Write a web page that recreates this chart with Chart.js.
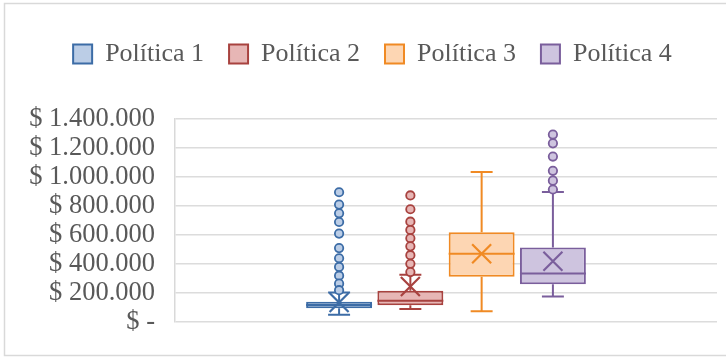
<!DOCTYPE html>
<html lang="es">
<head>
<meta charset="utf-8">
<title>Políticas – diagrama de caja</title>
<script src="https://cdn.jsdelivr.net/npm/chart.js@4/dist/chart.umd.min.js"></script>
<style>
  html, body { margin: 0; padding: 0; background: #ffffff; }
  #lienzo { display: block; }
</style>
</head>
<body>
<canvas id="lienzo" width="726" height="358"></canvas>
<script>
// Resumen de cinco números, media y valores atípicos de cada política
const politicas = ['Política 1', 'Política 2', 'Política 3', 'Política 4'];
const minimos   = [50000, 90000, 75000, 177000];
const cuartil1  = [95000, 116000, 313000, 261000];
const medianas  = [118000, 148000, 471000, 335000];
const cuartil3  = [141000, 216000, 619000, 515000];
const maximos   = [204000, 327000, 1034000, 896000];
const medias    = [135000, 245000, 471000, 420000];
const atipicos1 = [895000, 810000, 750000, 690000, 610000, 510000, 440000, 380000, 320000, 265000, 220000];
const atipicos2 = [873000, 778000, 692000, 635000, 578000, 522000, 461000, 402000, 345000];
const atipicos3 = [];
const atipicos4 = [1293000, 1232000, 1141000, 1043000, 975000, 914000];
const atipicos  = [atipicos1, atipicos2, atipicos3, atipicos4];
const ejeY      = { min: 0, max: 1400000, paso: 200000 };

const bordes   = ['#3C6CA6', '#A8423F', '#F08A24', '#7A5E9C'];
const rellenos = ['#BBCDE6', '#E7B6B5', '#FDD6B3', '#CEC4DF'];

const fuente = 'Liberation Serif, "Times New Roman", serif';
const gris = '#595959';

function pesos(v) {
  if (v === 0) return '$ -';
  return '$ ' + String(v).replace(/\B(?=(\d{3})+(?!\d))/g, '.');
}

// Marco del gráfico y fondo blanco
const marco = {
  id: 'marco',
  beforeDraw(chart) {
    const ctx = chart.ctx;
    ctx.save();
    ctx.fillStyle = '#ffffff';
    ctx.fillRect(0, 0, chart.width, chart.height);
    ctx.strokeStyle = '#d9d9d9';
    ctx.lineWidth = 1.5;
    ctx.strokeRect(4.5, 3.5, chart.width + 10, chart.height - 2.5 - 3.5);
    ctx.restore();
  }
};

// Separación extra entre la leyenda y el área de trazado
const separacionLeyenda = {
  id: 'separacionLeyenda',
  beforeInit(chart) {
    const original = chart.legend.fit;
    chart.legend.fit = function () {
      original.call(this);
      this.height += 42;
    };
  }
};

// Bigotes, mediana, media (X) y atípicos sobre cada caja
const bigotes = {
  id: 'bigotes',
  afterDatasetsDraw(chart) {
    const ctx = chart.ctx;
    const y = chart.scales.y;
    chart.data.datasets.forEach((ds, i) => {
      const meta = chart.getDatasetMeta(i);
      if (!chart.isDatasetVisible(i)) return;
      const barra = meta.data[0];
      const cx = barra.x;
      const w = barra.width;
      const tapa = w / 3;
      const col = bordes[i];
      const yMin = y.getPixelForValue(minimos[i]);
      const yMax = y.getPixelForValue(maximos[i]);
      const yQ1 = y.getPixelForValue(cuartil1[i]);
      const yQ3 = y.getPixelForValue(cuartil3[i]);
      const yMed = y.getPixelForValue(medianas[i]);
      const yMedia = y.getPixelForValue(medias[i]);

      ctx.save();
      ctx.strokeStyle = col;
      ctx.lineWidth = 2;
      ctx.lineCap = 'butt';
      ctx.beginPath();
      // bigote superior
      ctx.moveTo(cx, yQ3); ctx.lineTo(cx, yMax);
      ctx.moveTo(cx - tapa / 2, yMax); ctx.lineTo(cx + tapa / 2, yMax);
      // bigote inferior
      ctx.moveTo(cx, yQ1); ctx.lineTo(cx, yMin);
      ctx.moveTo(cx - tapa / 2, yMin); ctx.lineTo(cx + tapa / 2, yMin);
      // mediana
      ctx.moveTo(cx - w / 2, yMed); ctx.lineTo(cx + w / 2, yMed);
      ctx.stroke();

      // media
      const m = 9.5;
      ctx.lineWidth = 2.2;
      ctx.beginPath();
      ctx.moveTo(cx - m, yMedia - m); ctx.lineTo(cx + m, yMedia + m);
      ctx.moveTo(cx - m, yMedia + m); ctx.lineTo(cx + m, yMedia - m);
      ctx.stroke();

      // atípicos
      ctx.lineWidth = 1.8;
      ctx.fillStyle = rellenos[i];
      atipicos[i].forEach(v => {
        const py = y.getPixelForValue(v);
        ctx.beginPath();
        ctx.arc(cx, py, 4.2, 0, Math.PI * 2);
        ctx.fill();
        ctx.stroke();
      });
      ctx.restore();
    });
  }
};

const datasets = politicas.map((nombre, i) => ({
  label: nombre,
  data: [[cuartil1[i], cuartil3[i]]],
  backgroundColor: rellenos[i],
  borderColor: bordes[i],
  borderWidth: 2,
  borderSkipped: false,
  categoryPercentage: 0.526,
  barPercentage: 0.925
}));

new Chart(document.getElementById('lienzo'), {
  type: 'bar',
  data: { labels: [''], datasets },
  options: {
    responsive: false,
    animation: false,
    devicePixelRatio: 1,
    layout: { padding: { top: 16, left: 28, right: 9, bottom: 33 } },
    plugins: {
      legend: {
        position: 'top',
        labels: {
          boxWidth: 19,
          boxHeight: 19,
          padding: 25,
          color: gris,
          font: { family: fuente, size: 26 }
        }
      },
      tooltip: { enabled: false }
    },
    scales: {
      x: { display: false },
      y: {
        min: ejeY.min,
        max: ejeY.max,
        afterFit(escala) { escala.width = 147; },
        border: { display: true, color: '#d9d9d9', width: 1.5 },
        grid: { color: '#dcdcdc', lineWidth: 1.5, drawTicks: false },
        ticks: {
          stepSize: ejeY.paso,
          autoSkip: false,
          padding: 20,
          color: gris,
          font: { family: fuente, size: 26.5 },
          callback: pesos
        }
      }
    }
  },
  plugins: [marco, separacionLeyenda, bigotes]
});
</script>
</body>
</html>
